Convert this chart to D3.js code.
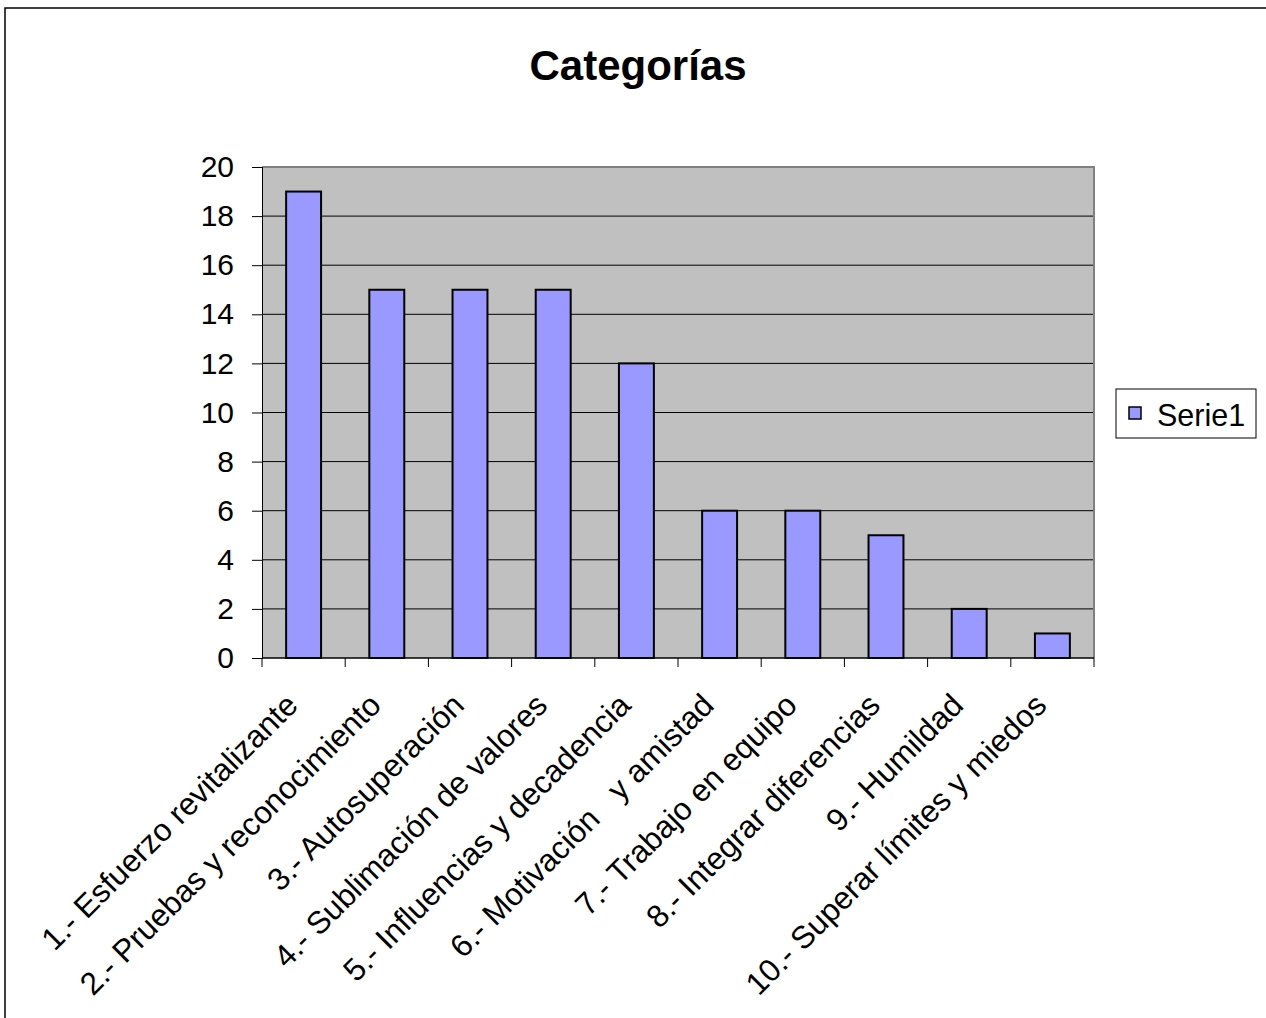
<!DOCTYPE html>
<html>
<head>
<meta charset="utf-8">
<script src="https://cdn.jsdelivr.net/npm/d3@7"></script>
<style>
  html, body { margin: 0; padding: 0; background: #fff; }
  svg { display: block; font-family: Arial, "Liberation Sans", sans-serif; }
</style>
</head>
<body>
<svg id="chart" width="1266" height="1018"></svg>
<script>
// Category labels (x axis), values of the single series, y tick values
const categories = [
  "1.- Esfuerzo revitalizante",
  "2.- Pruebas y reconocimiento",
  "3.- Autosuperación",
  "4.- Sublimación de valores",
  "5.- Influencias y decadencia",
  "6.- Motivación   y amistad",
  "7.- Trabajo en equipo",
  "8.- Integrar diferencias",
  "9.- Humildad",
  "10.- Superar límites y miedos"
];
const serie1 = [19, 15, 15, 15, 12, 6, 6, 5, 2, 1];
const yTicks = [0, 2, 4, 6, 8, 10, 12, 14, 16, 18, 20];
const seriesName = "Serie1";
const chartTitle = "Categorías";

const svg = d3.select("#chart");

// Chart frame
svg.append("rect")
  .attr("x", 5).attr("y", 8)
  .attr("width", 1300).attr("height", 1100)
  .attr("fill", "#fff")
  .attr("stroke", "#000").attr("stroke-width", 1.5);

const plot = { left: 262, right: 1094, top: 167, bottom: 658 };

const x = d3.scaleBand()
  .domain(categories)
  .range([plot.left, plot.right])
  .paddingInner(0.58)
  .paddingOuter(0.29);

const slot = d3.scaleBand()
  .domain(categories)
  .range([plot.left, plot.right])
  .padding(0);

const y = d3.scaleLinear()
  .domain([0, 20])
  .range([plot.bottom, plot.top]);

// Plot area background
svg.append("rect")
  .attr("x", plot.left).attr("y", plot.top)
  .attr("width", plot.right - plot.left)
  .attr("height", plot.bottom - plot.top)
  .attr("fill", "#c0c0c0");

// Horizontal gridlines
svg.append("g")
  .selectAll("line")
  .data(yTicks.filter(d => d > 0 && d < 20))
  .join("line")
  .attr("x1", plot.left).attr("x2", plot.right)
  .attr("y1", d => y(d)).attr("y2", d => y(d))
  .attr("stroke", "#000").attr("stroke-width", 1);

// Plot area border (top and right)
svg.append("path")
  .attr("d", `M${plot.left},${plot.top}H${plot.right}V${plot.bottom}`)
  .attr("fill", "none")
  .attr("stroke", "#808080").attr("stroke-width", 2);

// Bars
svg.append("g")
  .selectAll("rect")
  .data(serie1)
  .join("rect")
  .attr("x", (d, i) => x(categories[i]))
  .attr("y", d => y(d))
  .attr("width", x.bandwidth())
  .attr("height", d => y(0) - y(d))
  .attr("fill", "#9999ff")
  .attr("stroke", "#000").attr("stroke-width", 2);

// Y axis
const yAxis = d3.axisLeft(y)
  .tickValues(yTicks)
  .tickSize(10)
  .tickPadding(18)
  .tickFormat(d3.format("d"));
const yg = svg.append("g")
  .attr("transform", `translate(${plot.left},0)`)
  .call(yAxis);
yg.select(".domain").attr("stroke", "#000").attr("stroke-width", 1);
yg.selectAll(".tick line").attr("stroke", "#000");
yg.selectAll(".tick text")
  .attr("font-size", 30)
  .attr("font-family", "Arial, 'Liberation Sans', sans-serif")
  .attr("fill", "#000");

// X axis line with tick marks at category boundaries
svg.append("line")
  .attr("x1", plot.left).attr("x2", plot.right)
  .attr("y1", plot.bottom).attr("y2", plot.bottom)
  .attr("stroke", "#000").attr("stroke-width", 1.5);

const boundaries = categories.map(c => slot(c)).concat([plot.right]);
svg.append("g")
  .selectAll("line")
  .data(boundaries)
  .join("line")
  .attr("x1", d => d).attr("x2", d => d)
  .attr("y1", plot.bottom).attr("y2", plot.bottom + 9)
  .attr("stroke", "#000").attr("stroke-width", 1);

// Rotated category labels
svg.append("g")
  .selectAll("text")
  .data(categories)
  .join("text")
  .attr("transform", d => {
    const cx = slot(d) + slot.bandwidth() / 2 - 4;
    return `translate(${cx},707) rotate(-45)`;
  })
  .attr("text-anchor", "end")
  .attr("font-size", 31.5)
  .attr("fill", "#000")
  .style("white-space", "pre")
  .text(d => d);

// Title
svg.append("text")
  .attr("x", 638).attr("y", 80)
  .attr("text-anchor", "middle")
  .attr("font-size", 42)
  .attr("font-weight", "bold")
  .attr("fill", "#000")
  .text(chartTitle);

// Legend
const legend = svg.append("g");
legend.append("rect")
  .attr("x", 1116).attr("y", 389)
  .attr("width", 140).attr("height", 49)
  .attr("fill", "#fff")
  .attr("stroke", "#000").attr("stroke-width", 1);
legend.append("rect")
  .attr("x", 1129).attr("y", 407)
  .attr("width", 12).attr("height", 12)
  .attr("fill", "#9999ff")
  .attr("stroke", "#000").attr("stroke-width", 1.5);
legend.append("text")
  .attr("x", 1157).attr("y", 426)
  .attr("font-size", 30.5)
  .attr("fill", "#000")
  .text(seriesName);
</script>
</body>
</html>
